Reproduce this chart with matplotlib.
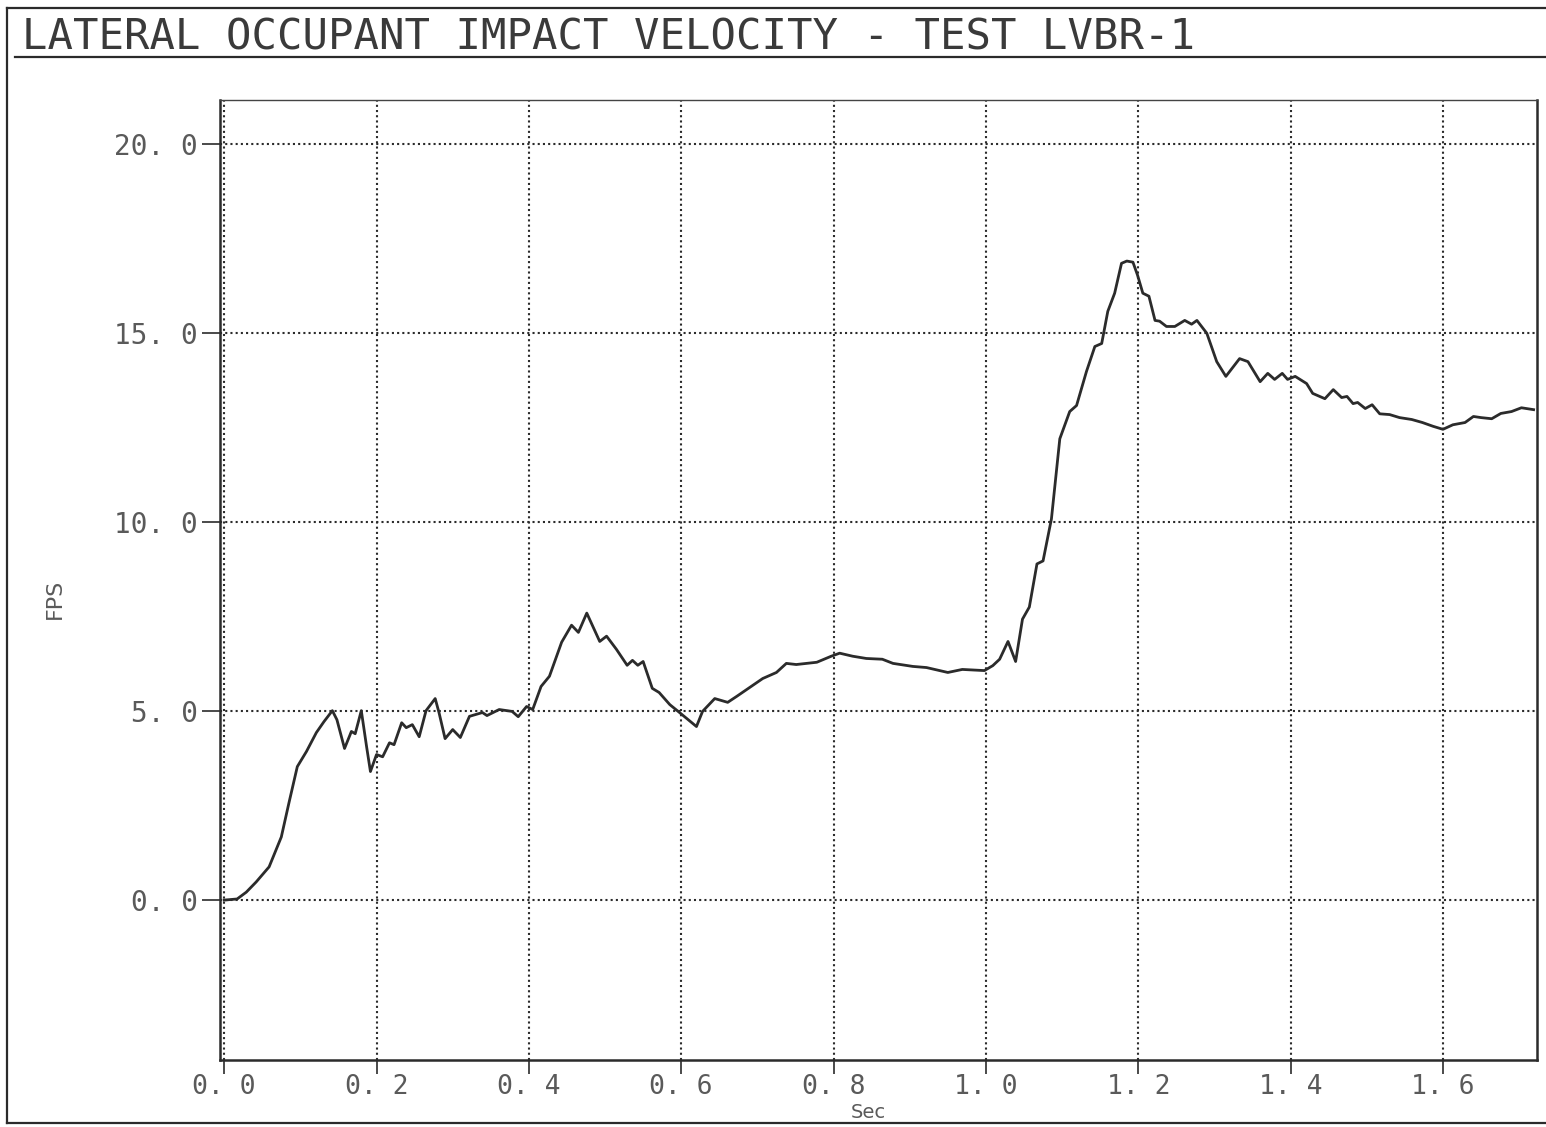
import numpy as np
import matplotlib.pyplot as plt
from matplotlib.lines import Line2D

# lateral occupant velocity trace, test LVBR-1
time_s = [0.000, 0.017, 0.029, 0.042, 0.059, 0.075, 0.085, 0.096, 0.108, 0.121,
          0.131, 0.142, 0.148, 0.158, 0.167, 0.172, 0.180, 0.187, 0.192, 0.200,
          0.208, 0.217, 0.223, 0.233, 0.239, 0.247, 0.256, 0.265, 0.277, 0.282,
          0.290, 0.300, 0.310, 0.322, 0.339, 0.345, 0.361, 0.378, 0.386, 0.397,
          0.405, 0.416, 0.427, 0.443, 0.456, 0.465, 0.476, 0.493, 0.502, 0.515,
          0.529, 0.536, 0.543, 0.550, 0.562, 0.571, 0.585, 0.596, 0.620, 0.628,
          0.644, 0.661, 0.673, 0.686, 0.707, 0.725, 0.738, 0.751, 0.778, 0.797,
          0.808, 0.825, 0.843, 0.864, 0.878, 0.904, 0.922, 0.950, 0.969, 0.998,
          1.009, 1.018, 1.029, 1.039, 1.048, 1.057, 1.067, 1.075, 1.086, 1.097,
          1.110, 1.119, 1.132, 1.143, 1.152, 1.160, 1.169, 1.178, 1.185, 1.193,
          1.199, 1.206, 1.214, 1.222, 1.228, 1.237, 1.248, 1.261, 1.270, 1.277,
          1.290, 1.303, 1.315, 1.333, 1.344, 1.360, 1.370, 1.379, 1.389, 1.396,
          1.406, 1.421, 1.429, 1.445, 1.456, 1.467, 1.474, 1.482, 1.488, 1.498,
          1.507, 1.517, 1.530, 1.543, 1.559, 1.573, 1.587, 1.600, 1.613, 1.629,
          1.640, 1.650, 1.664, 1.676, 1.690, 1.703, 1.719]
fps = [0.00, 0.03, 0.21, 0.48, 0.88, 1.67, 2.57, 3.53, 3.93, 4.43,
       4.72, 5.01, 4.77, 4.01, 4.46, 4.40, 5.01, 4.05, 3.40, 3.85,
       3.79, 4.16, 4.11, 4.69, 4.56, 4.64, 4.32, 5.01, 5.33, 4.96,
       4.27, 4.51, 4.30, 4.86, 4.96, 4.88, 5.04, 4.99, 4.85, 5.12,
       5.04, 5.65, 5.92, 6.82, 7.27, 7.08, 7.59, 6.84, 6.98, 6.63,
       6.21, 6.34, 6.21, 6.31, 5.60, 5.49, 5.17, 4.99, 4.59, 4.99,
       5.33, 5.23, 5.39, 5.57, 5.86, 6.02, 6.26, 6.23, 6.29, 6.45,
       6.53, 6.45, 6.39, 6.37, 6.26, 6.18, 6.15, 6.02, 6.10, 6.07,
       6.20, 6.37, 6.84, 6.31, 7.43, 7.75, 8.89, 8.97, 10.08, 12.20,
       12.92, 13.08, 13.98, 14.64, 14.72, 15.57, 16.05, 16.84, 16.90, 16.87,
       16.53, 16.05, 15.97, 15.33, 15.31, 15.17, 15.17, 15.33, 15.23, 15.33,
       14.99, 14.24, 13.85, 14.32, 14.24, 13.71, 13.93, 13.77, 13.93, 13.77,
       13.85, 13.66, 13.40, 13.26, 13.50, 13.29, 13.32, 13.13, 13.16, 13.00,
       13.10, 12.86, 12.84, 12.76, 12.71, 12.63, 12.53, 12.45, 12.57, 12.63,
       12.79, 12.76, 12.73, 12.87, 12.92, 13.02, 12.97]

x_ticks = [0.0, 0.2, 0.4, 0.6, 0.8, 1.0, 1.2, 1.4, 1.6]
x_labels = ['0. 0', '0. 2', '0. 4', '0. 6', '0. 8', '1. 0', '1. 2', '1. 4', '1. 6']
y_ticks = [0.0, 5.0, 10.0, 15.0, 20.0]
y_labels = ['0. 0', '5. 0', '10. 0', '15. 0', '20. 0']

ink = '#2b2b2b'
label_col = '#5a5a5a'
mono = 'DejaVu Sans Mono'

fig = plt.figure(figsize=(15.46, 11.27), dpi=100)
ax = fig.add_axes([0.1423, 0.0594, 0.8519, 0.8519])

ax.plot(time_s, fps, color=ink, lw=2.0)

ax.set_xlim(-0.0055, 1.7235)
ax.set_ylim(-4.23, 21.16)
ax.set_xticks(x_ticks)
ax.set_xticklabels(x_labels, family=mono)
ax.set_yticks(y_ticks)
ax.set_yticklabels(y_labels, family=mono)
ax.tick_params(axis='both', direction='out', width=1.2,
               color=ink, labelcolor=label_col, labelsize=20)
ax.tick_params(axis='x', length=10, pad=0, labelsize=19)
ax.tick_params(axis='y', length=13, pad=3)

ax.grid(True, color=ink, linestyle=(0, (1, 1.5)), linewidth=1.5)

for side in ['left', 'bottom', 'right']:
    ax.spines[side].set_color(ink)
    ax.spines[side].set_linewidth(1.8)
ax.spines['top'].set_color('#444444')
ax.spines['top'].set_linewidth(1.0)

ax.set_xlabel('Sec', fontsize=14, color=label_col)
ax.xaxis.set_label_coords(0.492, -0.0445)
ax.set_ylabel('FPS', fontsize=16, color=label_col)
ax.yaxis.set_label_coords(-0.118, 0.48)

# page frame and title rule
fig.add_artist(Line2D([7 / 1546, 7 / 1546], [1 - 8 / 1127, 1 - 1123 / 1127],
                      transform=fig.transFigure, color=ink, lw=1.6))
fig.add_artist(Line2D([7 / 1546, 1.0], [1 - 8 / 1127, 1 - 8 / 1127],
                      transform=fig.transFigure, color=ink, lw=1.6))
fig.add_artist(Line2D([7 / 1546, 1.0], [1 - 1123 / 1127, 1 - 1123 / 1127],
                      transform=fig.transFigure, color=ink, lw=1.6))
fig.add_artist(Line2D([15 / 1546, 1.0], [1 - 57 / 1127, 1 - 57 / 1127],
                      transform=fig.transFigure, color=ink, lw=1.6))

fig.text(22 / 1546, 1 - 49 / 1127, 'LATERAL OCCUPANT IMPACT VELOCITY - TEST LVBR-1',
         family=mono, fontsize=30.4, color='#3a3a3a',
         ha='left', va='baseline')

fig.savefig('out.png', dpi=100, facecolor='white')
